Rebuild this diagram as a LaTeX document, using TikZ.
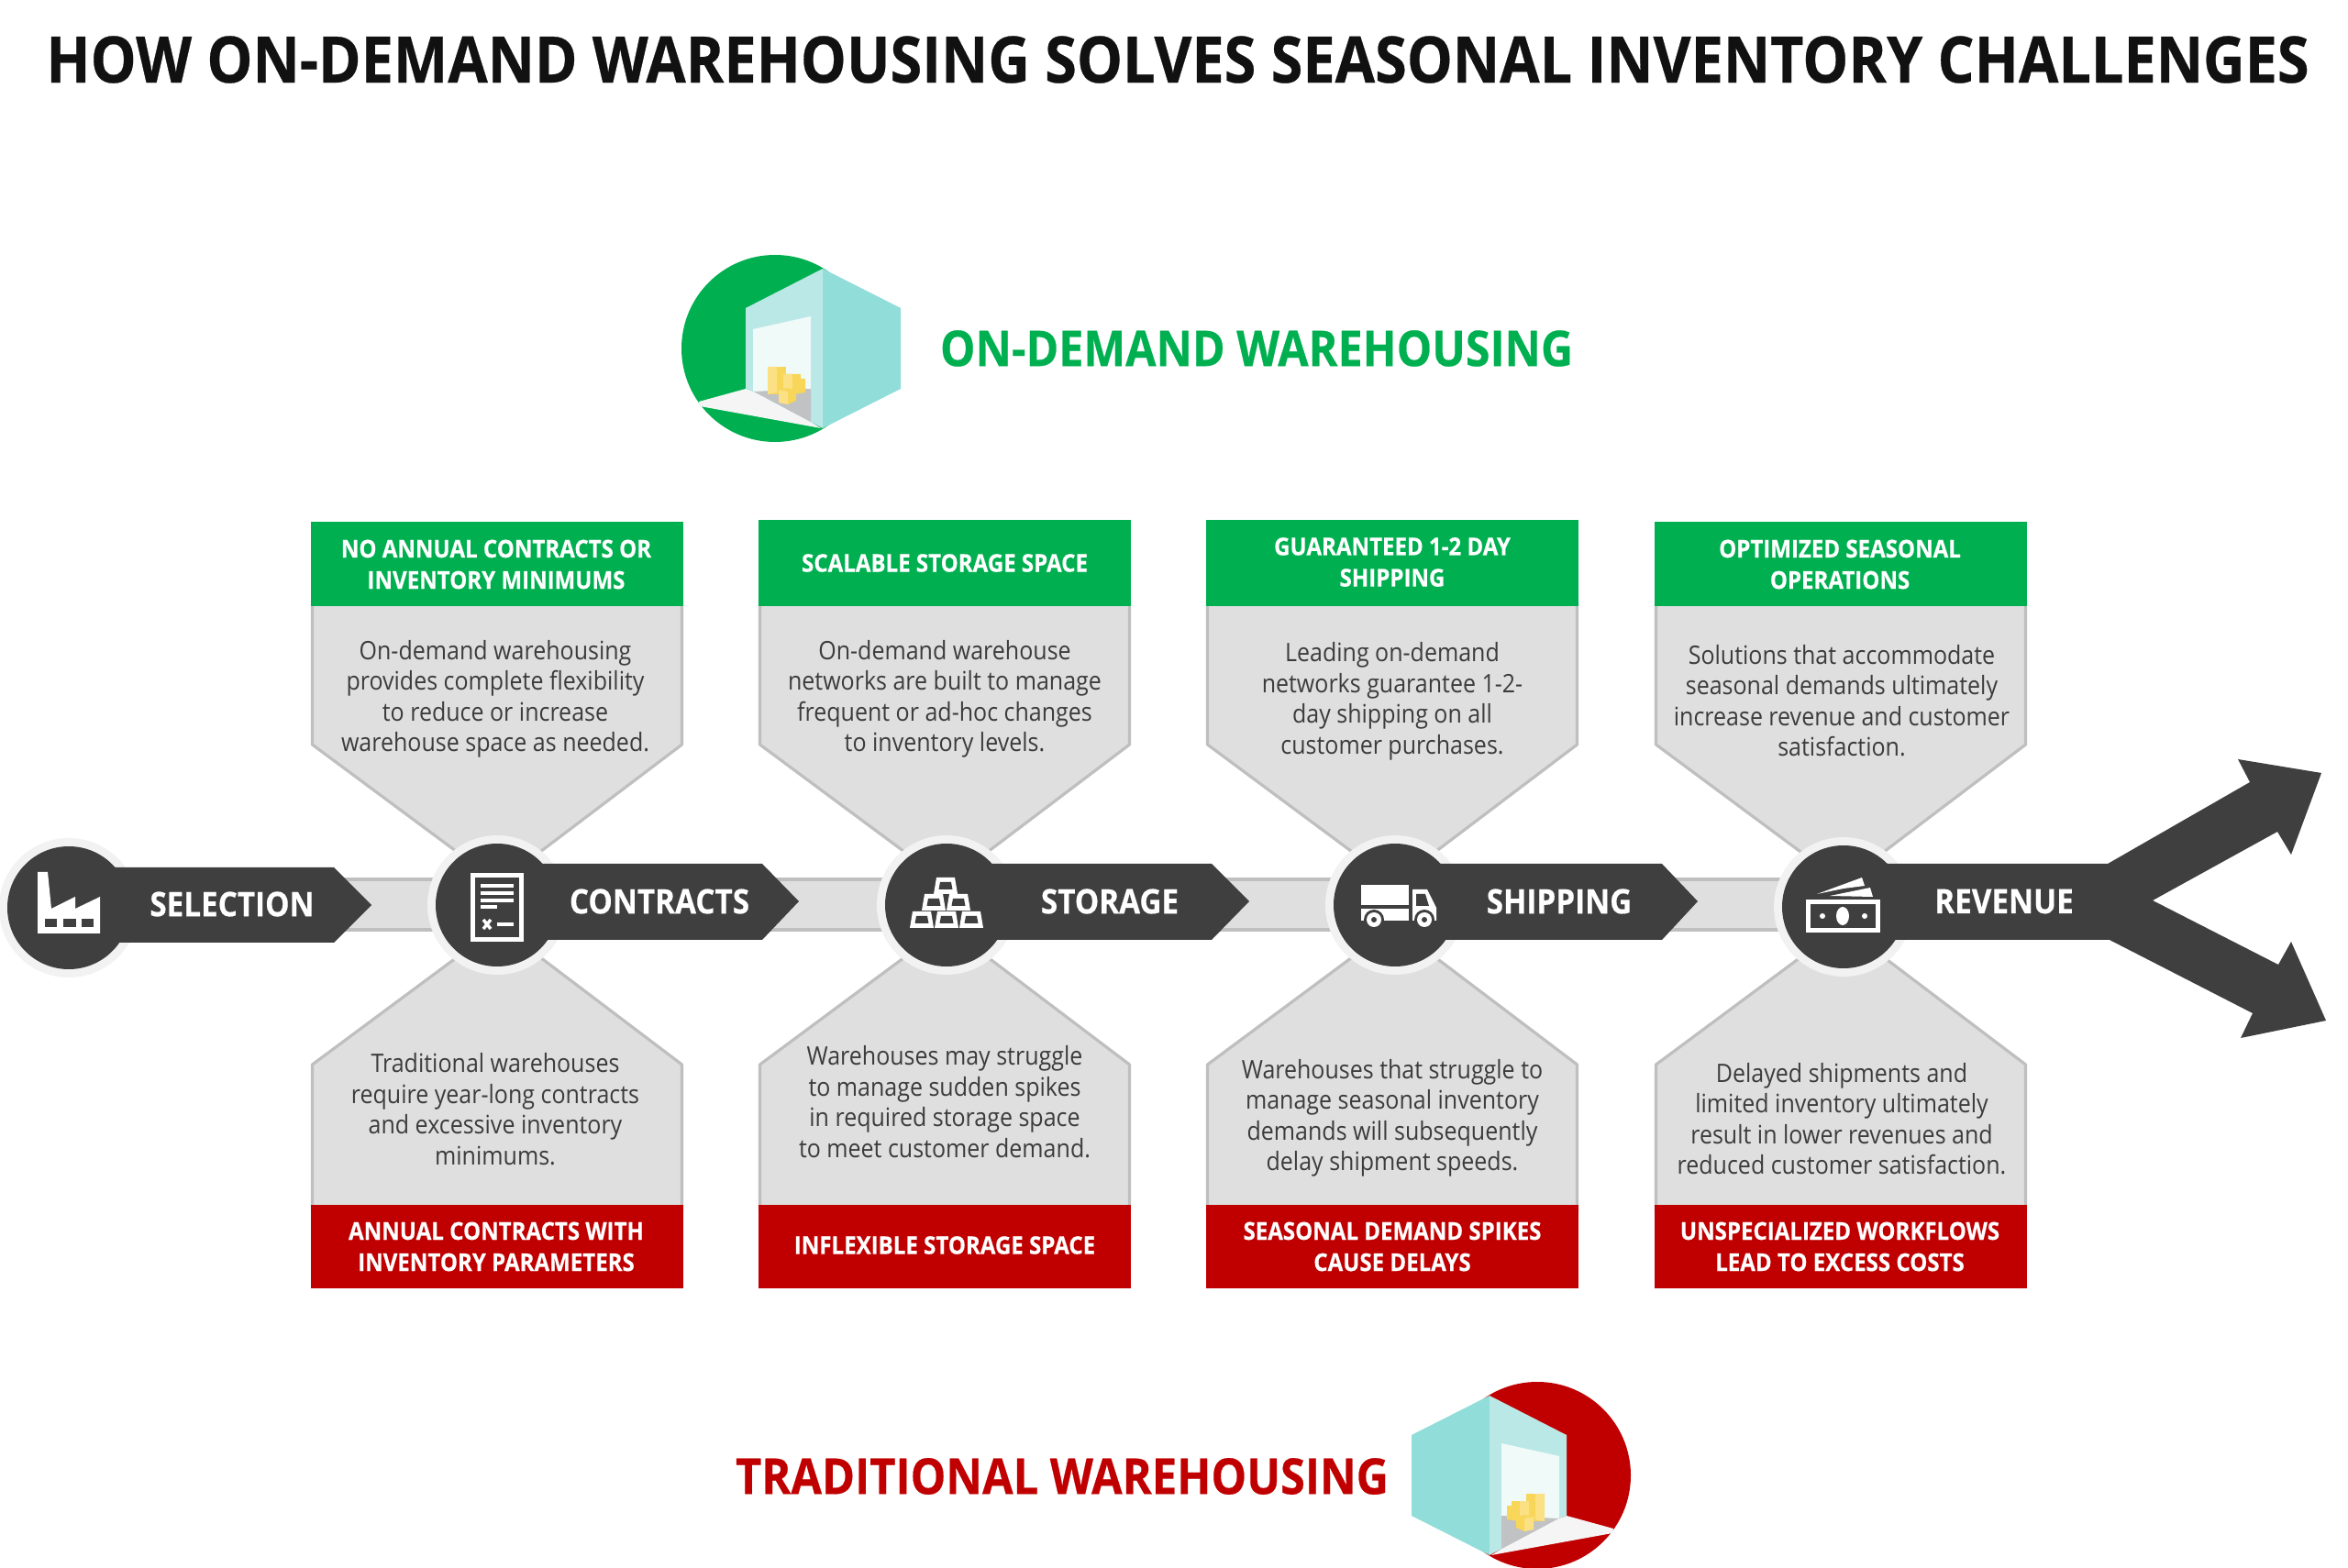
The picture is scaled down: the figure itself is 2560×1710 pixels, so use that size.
\documentclass[tikz,border=0pt]{standalone}
\usepackage{fontspec}
\setmainfont{Open Sans}[FakeStretch=0.9,BoldFeatures={FakeBold=0.4}]
\definecolor{dk}{HTML}{3F3F3F}
\definecolor{gr}{HTML}{00B050}
\definecolor{rd}{HTML}{C00000}
\definecolor{cardf}{HTML}{DFDFDF}
\definecolor{cardl}{HTML}{BFBFBF}
\definecolor{halo}{HTML}{F2F2F2}
\definecolor{ttl}{HTML}{111111}
\definecolor{tealA}{HTML}{90DDD9}
\definecolor{tealB}{HTML}{BAE8E6}
\definecolor{door}{HTML}{F0FAF9}
\definecolor{path}{HTML}{F5F5F5}
\definecolor{floorc}{HTML}{C0C2C4}
\definecolor{yelA}{HTML}{FBE084}
\definecolor{yelB}{HTML}{F7D65A}
\tikzset{
  card/.style={fill=cardf,draw=cardl,line width=3.2*0.2845pt,line join=round},
  bodytxt/.style={text=dk!95!black,align=center,font=\fontsize{7.9}{9.53}\selectfont},
  headtxt/.style={text=white,align=center,font=\fontsize{7.6}{9.7}\selectfont\bfseries},
  steptxt/.style={text=white,font=\fontsize{10.5}{12}\selectfont\bfseries},
  ico/.style={fill=white,draw=none},
  icodk/.style={fill=dk,draw=none},
}
\newcommand{\topcard}[2]{%
  \path[card] (#1-201.5,655) -- (#1-201.5,812) -- (#1+2,963) -- (#1+201.5,812) -- (#1+201.5,655) -- cycle;
  \fill[gr] (#1-203,#2) rectangle (#1+203,661);
}
\newcommand{\botcard}[1]{%
  \path[card] (#1-201.5,1320) -- (#1-201.5,1161) -- (#1+2,1010) -- (#1+201.5,1161) -- (#1+201.5,1320) -- cycle;
  \fill[rd] (#1-203,1314) rectangle (#1+203,1405);
}
\newcommand{\hub}[2]{%
  \fill[halo] (#1,#2) circle (76);
}
\newcommand{\stepbar}[4]{%
  \fill[dk] (#1,942) -- (#2,942) -- (#3,#4) -- (#2,1025) -- (#1,1025) -- cycle;
}
\newcommand{\brick}[2]{%
  \fill[ico] (#1-10,#2) -- (#1+10,#2) -- (#1+13,#2+18) -- (#1-13,#2+18) -- cycle;
  \fill[icodk] (#1-6,#2+5) -- (#1+6,#2+5) -- (#1+7.5,#2+13) -- (#1-7.5,#2+13) -- cycle;
}
\newcommand{\logo}[1]{%
  \fill[#1] (845,380) circle (102);
  \fill[path] (762,438) -- (813,424) -- (822,427) -- (884,460) -- (895,467) -- (763,443) -- cycle;
  \fill[tealA] (897,293) -- (982,336) -- (982,424) -- (897,467) -- cycle;
  \fill[tealB] (813,336) -- (897,293) -- (897,467) -- (884,460) -- (822,427) -- (813,424) -- cycle;
  \fill[door] (821,359) -- (884,345) -- (884,426) -- (821,427) -- cycle;
  \fill[floorc] (822,427) -- (884,424) -- (884,460) -- cycle;
  \fill[yelB] (837,400) -- (857,400) -- (857,430) -- (837,430) -- cycle;
  \fill[yelA] (837,400) -- (847,400) -- (847,428) -- (837,430) -- cycle;
  \fill[yelB] (854,408) -- (873,408) -- (873,413) -- (878,413) -- (878,428) -- (854,432) -- cycle;
  \fill[yelA] (854,408) -- (864,408) -- (864,428) -- (854,430) -- cycle;
  \fill[yelB] (849,425) -- (859,423) -- (868,426) -- (868,437) -- (859,441) -- (849,439) -- cycle;
  \fill[yelA] (849,425) -- (859,427) -- (859,441) -- (849,439) -- cycle;
}
\begin{document}
\begin{tikzpicture}[x=0.01cm,y=-0.01cm]
\useasboundingbox (0,0) rectangle (2560,1710);
\fill[white] (0,0) rectangle (2560,1710);

% title
\node[font=\fontsize{19.9}{24}\selectfont\bfseries,text=ttl] (title) at (1284,65) {HOW ON-DEMAND WAREHOUSING SOLVES SEASONAL INVENTORY CHALLENGES};

% band
\fill[cardl] (300,957) rectangle (2010,1016);
\fill[cardf] (300,961) rectangle (2010,1012);

% cards
\topcard{542}{569}
\topcard{1030}{567}
\topcard{1518}{567}
\topcard{2007}{569}
\botcard{542}
\botcard{1030}
\botcard{1518}
\botcard{2007}

% halos
\hub{75}{990}
\hub{542}{987}
\hub{1032}{987}
\hub{1521}{987}
\hub{2010}{989}

% arrows
\stepbar{542}{831}{871}{983}
\stepbar{1032}{1321}{1362}{983}
\stepbar{1521}{1812}{1851}{983}
\fill[dk] (75,946) -- (364,946) -- (405,987) -- (364,1028) -- (75,1028) -- cycle;
\fill[dk] (2010,942) -- (2298,942) -- (2453,853) -- (2440,828) -- (2531,843) -- (2498,932) -- (2483,907) -- (2347,982)
  -- (2484,1052) -- (2498,1027) -- (2536,1113) -- (2443,1132) -- (2456,1105) -- (2300,1025) -- (2010,1025) -- cycle;
\fill[dk] (75,990) circle (67);
\fill[dk] (542,987) circle (67);
\fill[dk] (1032,987) circle (67);
\fill[dk] (1521,987) circle (67);
\fill[dk] (2010,989) circle (67);

% factory icon
\fill[ico] (41,951) -- (52,951) -- (56,991) -- (82,978) -- (82,991) -- (109,978) -- (109,1018) -- (41,1018) -- cycle;
\fill[icodk] (49,1002) rectangle (62,1011);
\fill[icodk] (69,1002) rectangle (83,1011);
\fill[icodk] (89,1002) rectangle (102,1011);

% document icon
\draw[white,line width=5*0.2845pt,fill=dk] (515.5,954.5) rectangle (568.5,1024.5);
\foreach \ly in {966,974,982}{\fill[ico] (524,\ly-2) rectangle (560,\ly+2);}
\fill[ico] (524,987) rectangle (542,991);
\fill[ico] (542,1006) rectangle (560,1010);
\draw[white,line width=3.5*0.2845pt] (527,1003) -- (535,1013) (535,1003) -- (527,1013);

% bricks icon
\brick{1031}{957}
\brick{1018}{975}
\brick{1045}{975}
\brick{1005}{994}
\brick{1032}{994}
\brick{1059}{994}

% truck icon
\fill[ico] (1484,965) rectangle (1536,987);
\fill[ico] (1484,991) rectangle (1536,1004);
\fill[ico] (1540,970) -- (1556,970) -- (1566,990) -- (1566,1004) -- (1540,1004) -- cycle;
\fill[icodk] (1544,975) -- (1554,975) -- (1558,988) -- (1544,988) -- cycle;
\fill[dk] (1498,1003) circle (11);
\fill[ico] (1498,1003) circle (8);
\fill[icodk] (1498,1003) circle (3);
\fill[dk] (1553,1003) circle (11);
\fill[ico] (1553,1003) circle (8);
\fill[icodk] (1553,1003) circle (3);

% cash icon
\draw[white,line width=5.5*0.2845pt,fill=dk] (1971.5,983.5) rectangle (2047.5,1014.5);
\fill[ico] (2009,999) ellipse (7 and 10);
\fill[ico] (1987,999) circle (3);
\fill[ico] (2033,999) circle (3);
\fill[ico] (1981,975) -- (2030,957) -- (2033,966) -- (2010,969) -- cycle;
\fill[ico] (1995,977) -- (2039,968) -- (2042,978) -- cycle;

% step labels
\node[steptxt] (s1) at (253,986) {SELECTION};
\node[steptxt] (s2) at (719,983) {CONTRACTS};
\node[steptxt] (s3) at (1210,983) {STORAGE};
\node[steptxt] (s4) at (1700,983) {SHIPPING};
\node[steptxt] (s5) at (2185,983) {REVENUE};

% top headers
\node[headtxt] (h1) at (541,615.5) {NO ANNUAL CONTRACTS OR\\INVENTORY MINIMUMS};
\node[headtxt] (h2) at (1030,614) {SCALABLE STORAGE SPACE};
\node[headtxt] (h3) at (1518,613) {GUARANTEED 1-2 DAY\\SHIPPING};
\node[headtxt] (h4) at (2006,615.5) {OPTIMIZED SEASONAL\\OPERATIONS};
% top bodies
\node[bodytxt] (t1) at (540,762.5) {On-demand warehousing\\provides complete flexibility\\to reduce or increase\\warehouse space as needed.};
\node[bodytxt] (t2) at (1030,762.5) {On-demand warehouse\\networks are built to manage\\frequent or ad-hoc changes\\to inventory levels.};
\node[bodytxt] (t3) at (1518,765) {Leading on-demand\\networks guarantee 1-2-\\day shipping on all\\customer purchases.};
\node[bodytxt] (t4) at (2008,764) {Solutions that accommodate\\seasonal demands ultimately\\increase revenue and customer\\satisfaction.};
% bottom bodies
\node[bodytxt] (b1) at (540,1209.5) {Traditional warehouses\\require year-long contracts\\and excessive inventory\\minimums.};
\node[bodytxt] (b2) at (1030,1201.5) {Warehouses may struggle\\to manage sudden spikes\\in required storage space\\to meet customer demand.};
\node[bodytxt] (b3) at (1518,1219.5) {Warehouses that struggle to\\manage seasonal inventory\\demands will subsequently\\delay shipment speeds.};
\node[bodytxt] (b4) at (2008,1220) {Delayed shipments and\\limited inventory ultimately\\result in lower revenues and\\reduced customer satisfaction.};
% bottom headers
\node[headtxt] (f1) at (541,1359.5) {ANNUAL CONTRACTS WITH\\INVENTORY PARAMETERS};
\node[headtxt] (f2) at (1030,1358) {INFLEXIBLE STORAGE SPACE};
\node[headtxt] (f3) at (1518,1359.5) {SEASONAL DEMAND SPIKES\\CAUSE DELAYS};
\node[headtxt] (f4) at (2006,1359.5) {UNSPECIALIZED WORKFLOWS\\LEAD TO EXCESS COSTS};

% logos
\logo{gr}
\begin{scope}[shift={(2521,1229)},xscale=-1]
\logo{rd}
\end{scope}
\node[font=\fontsize{15.3}{18}\selectfont\bfseries,text=gr] (ond) at (1370,380) {ON-DEMAND WAREHOUSING};
\node[font=\fontsize{15.4}{18}\selectfont\bfseries,text=rd] (trad) at (1158,1610) {TRADITIONAL WAREHOUSING};
\end{tikzpicture}
\end{document}
